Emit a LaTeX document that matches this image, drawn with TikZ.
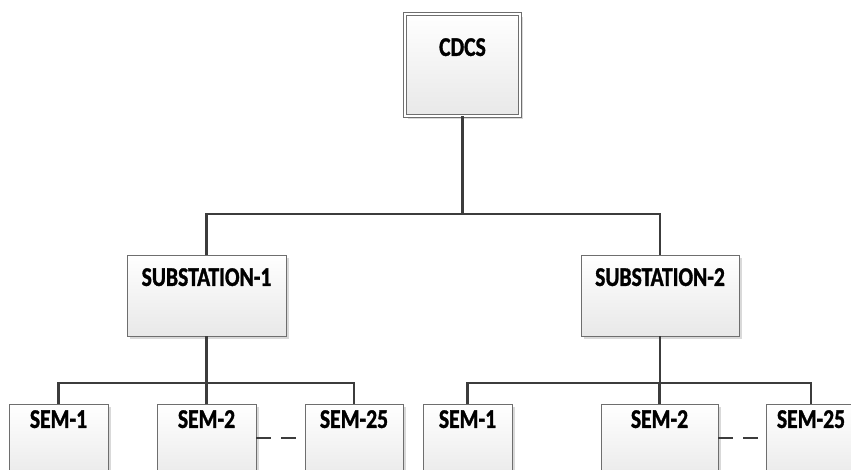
\documentclass[tikz,border=0pt]{standalone}
\usepackage{fontspec}
\setmainfont{Carlito}[FakeStretch=0.8,BoldFeatures={FakeBold=1.2}]
\usetikzlibrary{positioning,shadows}
\definecolor{wirecol}{HTML}{3C3C3C}
\definecolor{edgecol}{HTML}{6E6E6E}

\begin{document}
\begin{tikzpicture}[x=1pt,y=-1pt,
 box/.style={draw=edgecol,line width=0.9pt,top color=white,bottom color=black!9,
   drop shadow={shadow xshift=3pt,shadow yshift=-3pt,fill=black!15,opacity=1},
   minimum height=80pt,inner sep=0pt,outer sep=0pt},
 lbl/.style={font=\fontsize{27}{27}\selectfont\bfseries,inner sep=0pt},
 wire/.style={draw=wirecol,line width=2.2pt},
 gapline/.style={wire,dash pattern=on 15pt off 10pt}]
 \useasboundingbox (0,0) rectangle (851,469);
 \clip (0,0) rectangle (851,469);
 % bus heights
 \coordinate (topbus) at (0,214);
 \coordinate (lowbus) at (0,383);
 % boxes
 \node[box,double=white,double distance=2pt,minimum width=115pt,minimum height=102pt] (cdcs) at (462.5,65) {};
 \node[box,minimum width=159pt,minimum height=81pt] (sub1) at (206.5,295.5) {};
 \node[box,minimum width=158pt,minimum height=81pt] (sub2) at (660,295.5) {};
 \node[box,minimum width=99pt] (a1) at (58.5,444) {};
 \node[box,minimum width=99pt] (a2) at (206.5,444) {};
 \node[box,minimum width=98pt] (a3) at (354,444) {};
 \node[box,minimum width=89pt] (b1) at (467.5,444) {};
 \node[box,minimum width=117pt] (b2) at (659.5,444) {};
 \node[box,minimum width=90pt] (b3) at (811,444) {};
 % connectors
 \draw[wire] (cdcs.south) -- (cdcs.south |- topbus);
 \draw[wire] (sub1.north) |- (sub2.north |- topbus) -- (sub2.north);
 \draw[wire] (sub1.south) -- (sub1.south |- lowbus);
 \draw[wire] (sub2.south) -- (sub2.south |- lowbus);
 \draw[wire] (a1.north) |- (a3.north |- lowbus) -- (a3.north);
 \draw[wire] (a2.north) -- (a2.north |- lowbus);
 \draw[wire] (b1.north) |- (b3.north |- lowbus) -- (b3.north);
 \draw[wire] (b2.north) -- (b2.north |- lowbus);
 \draw[gapline] ([yshift=-34pt]a2.north east) -- ([yshift=-34pt]a3.north west);
 \draw[gapline] ([yshift=-34pt]b2.north east) -- ([yshift=-34pt]b3.north west);
 % labels
 \node[lbl,below=24pt of cdcs.north] (cdcst) {CDCS};
 \node[lbl,below=13pt of sub1.north] (sub1t) {SUBSTATION-1};
 \node[lbl,below=13pt of sub2.north] (sub2t) {SUBSTATION-2};
 \node[lbl,below=6pt of a1.north] (a1t) {SEM-1};
 \node[lbl,below=6pt of a2.north] (a2t) {SEM-2};
 \node[lbl,below=6pt of a3.north] (a3t) {SEM-25};
 \node[lbl,below=6pt of b1.north] (b1t) {SEM-1};
 \node[lbl,below=6pt of b2.north] (b2t) {SEM-2};
 \node[lbl,below=6pt of b3.north] (b3t) {SEM-25};
\end{tikzpicture}
\end{document}
